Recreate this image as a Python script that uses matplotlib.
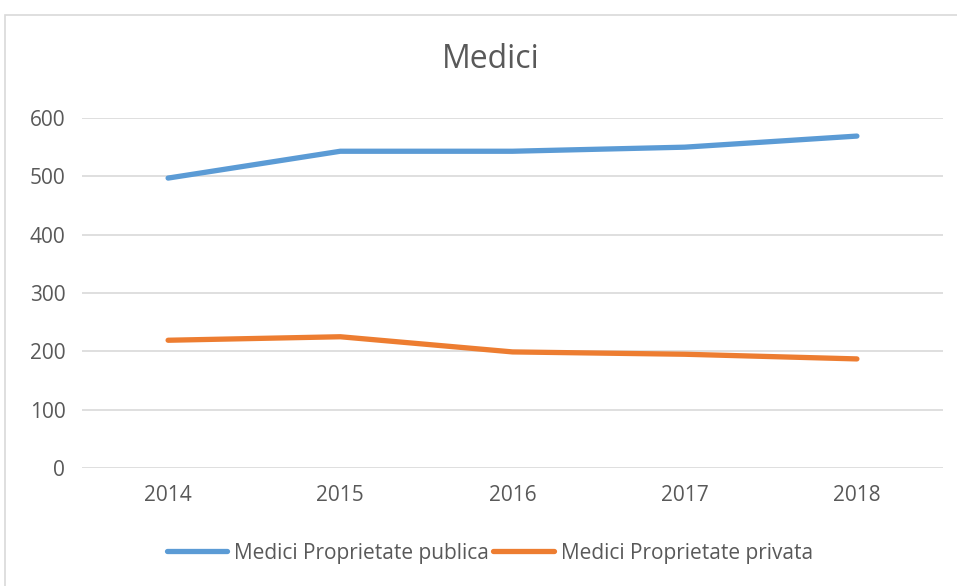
import matplotlib.pyplot as plt
from matplotlib.patches import Rectangle

years = ['2014', '2015', '2016', '2017', '2018']
publica = [497, 543, 543, 550, 569]
privata = [219, 225, 199, 195, 187]

plt.rcParams['font.family'] = ['Open Sans', 'DejaVu Sans']

fig = plt.figure(figsize=(9.57, 5.86), dpi=100)
# chart frame (Excel-like border)
fig.patches.append(Rectangle((5/957, -0.1), 1.2, 1 - 15/586 + 0.1, transform=fig.transFigure,
                             fill=False, edgecolor='#d9d9d9', linewidth=1.2))

ax = fig.add_axes([82/957, 1 - 468/586, 861/957, 350/586])
x = range(len(years))
ax.plot(x, publica, color='#5b9bd5', linewidth=3.8, solid_capstyle='round', label='Medici Proprietate publica')
ax.plot(x, privata, color='#ed7d31', linewidth=3.8, solid_capstyle='round', label='Medici Proprietate privata')

ax.set_xlim(-0.5, 4.5)
ax.set_ylim(0, 600)
ax.set_yticks(range(0, 601, 100))
ax.set_xticks(list(x))
ax.set_xticklabels(years)
ax.grid(axis='y', color='#d9d9d9', linewidth=1.2)
ax.set_axisbelow(True)
for s in ax.spines.values():
    s.set_visible(False)
ax.tick_params(axis='both', length=0, labelsize=15, labelcolor='#595959')
ax.tick_params(axis='x', pad=12)
ax.tick_params(axis='y', pad=12)

fig.text(491/957, 1 - 60/586, 'Medici', ha='center', va='center', fontsize=23, color='#595959')

fig.legend(loc='center', bbox_to_anchor=(490/957, 1 - 553/586), ncol=2, frameon=False,
           fontsize=15, labelcolor='#595959', handlelength=2.9, handletextpad=0.35, columnspacing=0.2)

plt.savefig('out.png', dpi=100)
